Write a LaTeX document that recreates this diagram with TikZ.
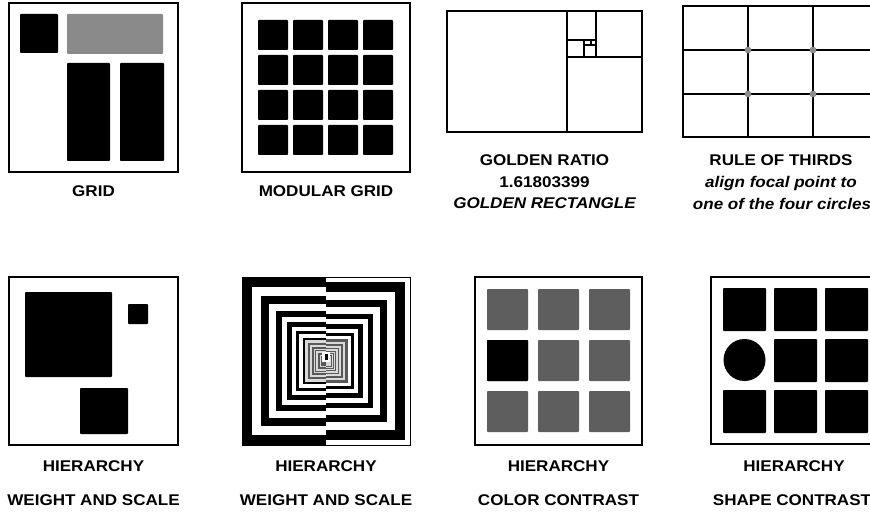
\documentclass[tikz,border=0pt]{standalone}
\usepackage{fontspec}
\usepackage{tikz}
\usetikzlibrary{positioning}
\newfontfamily\capfont[FakeStretch=1.1]{Liberation Sans}
\definecolor{PanelGray}{HTML}{8A8A8A}
\definecolor{TileGray}{HTML}{5E5E5E}
\definecolor{DotGray}{HTML}{8C8C8C}
\tikzset{
  panel/.style={draw=black, line width=2pt},
  tile/.style={fill=black, rounded corners=0.8pt},
  greytile/.style={tile, fill=TileGray},
  golden/.style={draw=black, line width=1.4pt},
  thirds/.style={draw=black, line width=2.3pt},
  caption/.style={font=\capfont\fontsize{15.5}{18}\selectfont\bfseries, anchor=base, inner sep=0pt},
  remark/.style={caption, font=\capfont\fontsize{15.5}{18}\selectfont\bfseries\itshape},
}
\begin{document}
\begin{tikzpicture}[x=1pt,y=-1pt]
  \useasboundingbox (0,0) rectangle (870,513);
  \clip (0,0) rectangle (870,513);

  % grid
  \draw[panel] (9,3) rectangle (178,172);
  \fill[tile] (20,14) rectangle (58,53);
  \fill[tile, fill=PanelGray] (67,14) rectangle (163,54);
  \fill[tile] (67,63) rectangle (110,161);
  \fill[tile] (120,63) rectangle (164,161);
  \node[caption] (grid) at (93.5,197) {GRID};

  % modular grid
  \draw[panel] (242,3) rectangle (410,172);
  \foreach \i in {0,...,3}
    \foreach \j in {0,...,3}
      \fill[tile] (258+35*\i,20+35*\j) rectangle ++(30,30);
  \node[caption] (modular) at (326,197) {MODULAR GRID};

  % golden rectangle
  \draw[golden] (447,11) rectangle (642,132);
  \draw[golden] (567,11) -- (567,132);
  \draw[golden] (567,57) -- (642,57);
  \draw[golden] (596,11) -- (596,57);
  \draw[golden] (567,40) -- (596,40);
  \draw[golden] (584,40) -- (584,57);
  \draw[golden] (584,45) -- (596,45);
  \draw[golden] (591,40) -- (591,45);
  \node[caption] (ratio) at (544.5,166) {GOLDEN RATIO};
  \node[caption] (phi) at (544.5,187.5) {1.61803399};
  \node[remark] (goldrect) at (544.5,209) {GOLDEN RECTANGLE};

  % rule of thirds
  \draw[thirds] (683,6) rectangle (878,137);
  \foreach \x in {748,813}
    \draw[thirds] (\x,6) -- (\x,137);
  \foreach \y in {50,94}
    \draw[thirds] (683,\y) -- (878,\y);
  \foreach \x in {748,813}
    \foreach \y in {50,94}
      \fill[DotGray] (\x,\y) circle[radius=3.4];
  \node[caption] (thirds) at (781,166) {RULE OF THIRDS};
  \node[remark] (focal) at (781,188) {align focal point to};
  \node[remark] (circles) at (782,209.5) {one of the four circles};

  % weight and scale
  \draw[panel] (9,277) rectangle (178,445);
  \fill[tile] (25,292) rectangle (112,377);
  \fill[tile] (128,304) rectangle (148,324);
  \fill[tile] (80,388) rectangle (128,434);
  \node[caption] (hier1) at (93.5,471) {HIERARCHY};
  \node[caption] (weight1) at (93.5,505) {WEIGHT AND SCALE};

  % tunnel
  \foreach \k in {0,...,22} {
    \pgfmathsetmacro\rl{84*0.88^\k}
    \pgfmathsetmacro\rr{\k==0 ? 84 : 84*0.88^(\k-0.5)}
    \ifnum\k<11
      \ifodd\k \def\lc{white}\def\rc{black}\else \def\lc{black}\def\rc{white}\fi
    \else
      \ifodd\k \def\lc{black!15}\def\rc{black!65}\else \def\lc{black!65}\def\rc{black!15}\fi
    \fi
    \fill[\lc] (326-\rl,361-\rl) rectangle (326,361+\rl);
    \fill[\rc] (326,361-\rr) rectangle (326+\rr,361+\rr);
  }
  \fill[white] (322,352) rectangle (330,362);
  \fill[black] (325,354) rectangle (328,360);
  \draw[black, line width=1pt] (242,277) rectangle (410,445);
  \node[caption] (hier2) at (326,471) {HIERARCHY};
  \node[caption] (weight2) at (326,505) {WEIGHT AND SCALE};

  % color contrast
  \draw[panel] (475,277) rectangle (642,445);
  \foreach \i in {0,...,2}
    \foreach \j in {0,...,2}
      \fill[greytile] (487+51*\i,289+51*\j) rectangle ++(41,41);
  \fill[tile] (487,340) rectangle ++(41,41);
  \node[caption] (hier3) at (558.5,471) {HIERARCHY};
  \node[caption] (colour) at (558.5,505) {COLOR CONTRAST};

  % shape contrast
  \draw[panel] (711,277) rectangle (879,444);
  \foreach \i/\j in {0/0,1/0,2/0,1/1,2/1,0/2,1/2,2/2}
    \fill[tile] (723+51*\i,288+51*\j) rectangle ++(43,43);
  \fill[black] (744.5,360) circle[radius=21];
  \node[caption] (hier4) at (794,471) {HIERARCHY};
  \node[caption] (shape) at (792,505) {SHAPE CONTRAST};
\end{tikzpicture}
\end{document}
